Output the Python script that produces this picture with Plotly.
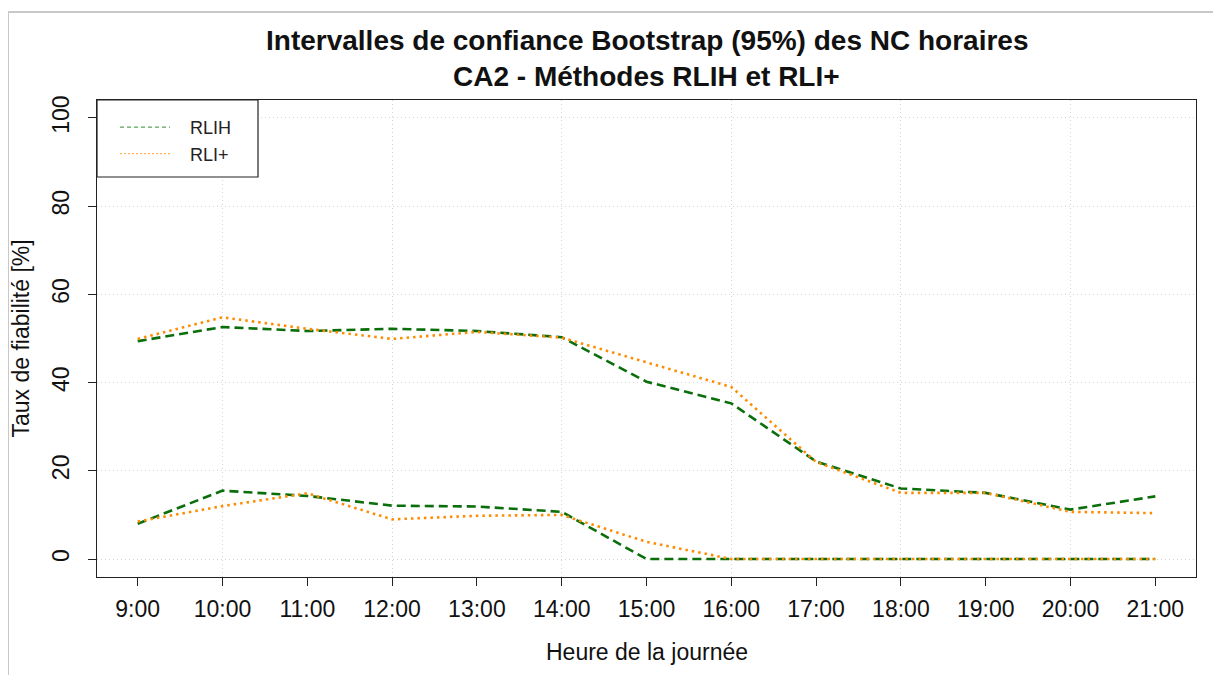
import plotly.graph_objects as go

hours = [9, 10, 11, 12, 13, 14, 15, 16, 17, 18, 19, 20, 21]
hour_labels = ["9:00", "10:00", "11:00", "12:00", "13:00", "14:00", "15:00",
               "16:00", "17:00", "18:00", "19:00", "20:00", "21:00"]
rlih_upper = [49.4, 52.6, 51.7, 52.2, 51.7, 50.3, 40.2, 35.3, 22.1, 16.0, 15.0, 11.2, 14.2]
rlih_lower = [8.0, 15.5, 14.3, 12.1, 11.9, 10.7, 0, 0, 0, 0, 0, 0, 0]
rlip_upper = [49.9, 54.8, 52.2, 49.9, 51.5, 50.2, 44.6, 39.0, 22.0, 15.0, 15.0, 10.7, 10.4]
rlip_lower = [8.5, 12.0, 14.9, 9.0, 9.8, 10.0, 3.9, 0, 0, 0, 0, 0, 0]
y_ticks = [0, 20, 40, 60, 80, 100]
x_grid = [10, 12, 14, 16, 18, 20]

GREEN = "#0a6e0a"
ORANGE = "#ff8c00"
FONT = "Liberation Sans, Arial, sans-serif"

# page is offset by the 8px body margin; plot area in reference: x 97-1196, y 100-577
ML, MT, PW, PH = 89, 92, 1099, 477
W, H = 1221, 675

def px(x):  # reference page x -> paper
    return (x - 97) / PW

def py(y):  # reference page y -> paper
    return (577 - y) / PH

fig = go.Figure()

for ys in (rlih_upper, rlih_lower):
    fig.add_trace(go.Scatter(x=hours, y=ys, mode="lines", showlegend=False,
                             line=dict(color=GREEN, width=2.6, dash="9px,5px")))
for ys in (rlip_upper, rlip_lower):
    fig.add_trace(go.Scatter(x=hours, y=ys, mode="lines", showlegend=False,
                             line=dict(color=ORANGE, width=2.6, dash="2.5px,4px")))

NB = "\u00a0"
fig.add_trace(go.Scatter(x=[None], y=[None], mode="lines", name=NB * 3 + "RLIH",
                         line=dict(color="#5aa55a", width=1.2, dash="4px,3px")))
fig.add_trace(go.Scatter(x=[None], y=[None], mode="lines", name=NB * 3 + "RLI+",
                         line=dict(color="#ffb050", width=1.2, dash="2px,2px")))

fig.add_trace(go.Scatter(x=[x_grid[0]], y=[None], xaxis="x2", showlegend=False,
                         hoverinfo="skip"))

fig.update_layout(
    width=W, height=H,
    margin=dict(l=ML, r=W - ML - PW, t=MT, b=H - MT - PH),
    paper_bgcolor="white", plot_bgcolor="white",
    font=dict(family=FONT, color="#111111"),
    xaxis=dict(range=[8.52, 21.48], tickmode="array", tickvals=hours,
               ticktext=hour_labels, ticks="outside", ticklen=8,
               tickcolor="#222222", tickfont=dict(size=23),
               showgrid=False, zeroline=False,
               showline=True, mirror=True, linecolor="#222222", linewidth=1.2,
               ticklabelstandoff=3),
    xaxis2=dict(range=[8.52, 21.48], overlaying="x", tickmode="array",
                tickvals=x_grid, showticklabels=False, ticks="",
                showgrid=True, gridcolor="#d4d4d4", griddash="1px,3px", gridwidth=1,
                zeroline=False, showline=False),
    yaxis=dict(range=[-4.08, 104.08], tickmode="array", tickvals=y_ticks,
               ticks="outside", ticklen=8, tickcolor="#222222",
               tickfont=dict(size=23), tickangle=-90,
               showgrid=True, gridcolor="#d4d4d4", griddash="1px,3px", gridwidth=1,
               zeroline=False, showline=True, mirror=True,
               linecolor="#222222", linewidth=1.2, ticklabelstandoff=10),
    legend=dict(x=px(115), y=py(109), xanchor="left", yanchor="top",
                bgcolor="rgba(0,0,0,0)", borderwidth=0,
                font=dict(size=18, family=FONT, color="#222222"),
                itemwidth=50, tracegroupgap=0),
    annotations=[
        dict(text="<b>Intervalles de confiance Bootstrap (95%) des NC horaires</b>",
             xref="paper", yref="paper", x=0.5, y=py(40),
             xanchor="center", yanchor="middle", showarrow=False,
             font=dict(size=28, family=FONT, color="#111111")),
        dict(text="<b>CA2 - Méthodes RLIH et RLI+</b>",
             xref="paper", yref="paper", x=0.5, y=py(76),
             xanchor="center", yanchor="middle", showarrow=False,
             font=dict(size=28, family=FONT, color="#111111")),
        dict(text="Heure de la journée", xref="paper", yref="paper",
             x=0.5, y=py(652), xanchor="center", yanchor="middle",
             showarrow=False, font=dict(size=23, family=FONT, color="#111111")),
        dict(text="Taux de fiabilité [%]", xref="paper", yref="paper",
             x=px(20), y=0.5, xanchor="center", yanchor="middle",
             textangle=-90, showarrow=False,
             font=dict(size=23, family=FONT, color="#111111")),
    ],
    shapes=[
        # legend frame
        dict(type="rect", xref="paper", yref="paper", layer="above",
             x0=0, x1=px(258), y0=py(177), y1=1,
             fillcolor="white", line=dict(color="#222222", width=1.2)),
        # light grey image frame (top and left)
        dict(type="line", xref="paper", yref="paper",
             x0=px(8), x1=px(1221), y0=py(12), y1=py(12),
             line=dict(color="#c8c8c8", width=2)),
        dict(type="line", xref="paper", yref="paper",
             x0=px(8), x1=px(8), y0=py(12), y1=py(675),
             line=dict(color="#c8c8c8", width=2)),
    ],
)

fig.write_html("out.html")
